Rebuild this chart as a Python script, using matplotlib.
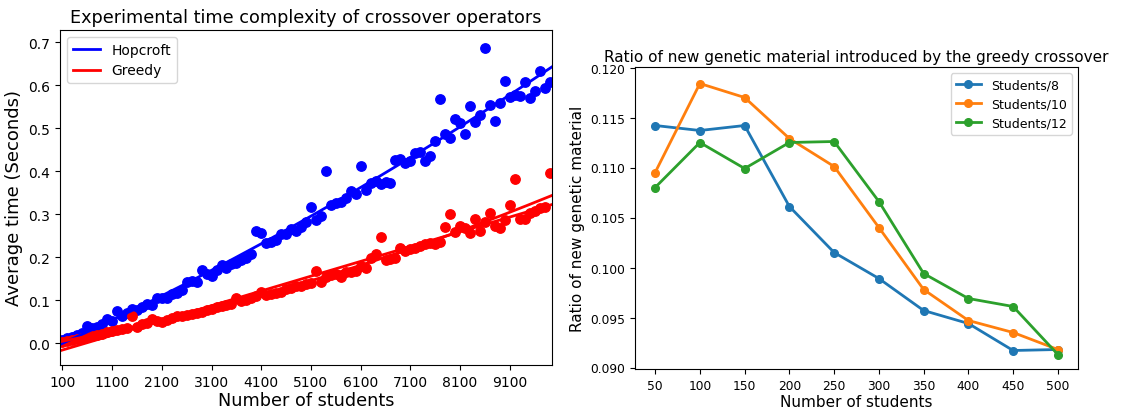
import numpy as np
import matplotlib
matplotlib.use("Agg")
import matplotlib.pyplot as plt

# ---------------- Left chart data ----------------
students = list(range(100, 10000, 100))
hopcroft = [
    0.008, 0.012, 0.015, 0.019, 0.024, 0.040, 0.036, 0.037, 0.044, 0.055,
    0.052, 0.075, 0.063, 0.070, 0.080, 0.078, 0.083, 0.091, 0.089, 0.105,
    0.104, 0.106, 0.114, 0.117, 0.124, 0.143, 0.144, 0.142, 0.171, 0.160,
    0.157, 0.170, 0.181, 0.174, 0.184, 0.186, 0.193, 0.199, 0.207, 0.260,
    0.256, 0.232, 0.236, 0.240, 0.255, 0.254, 0.266, 0.262, 0.270, 0.281,
    0.316, 0.287, 0.296, 0.401, 0.322, 0.326, 0.329, 0.337, 0.353, 0.346,
    0.413, 0.356, 0.372, 0.377, 0.370, 0.374, 0.372, 0.426, 0.428, 0.420,
    0.424, 0.443, 0.444, 0.425, 0.436, 0.470, 0.568, 0.487, 0.477, 0.522,
    0.513, 0.488, 0.553, 0.515, 0.532, 0.687, 0.555, 0.516, 0.559, 0.611,
    0.574, 0.578, 0.575, 0.607, 0.570, 0.587, 0.633, 0.595, 0.608,
]
greedy = [
    0.002, 0.005, 0.008, 0.010, 0.012, 0.014, 0.016, 0.020, 0.022, 0.026,
    0.028, 0.030, 0.032, 0.034, 0.062, 0.038, 0.044, 0.046, 0.057, 0.052,
    0.050, 0.054, 0.058, 0.063, 0.062, 0.066, 0.068, 0.070, 0.073, 0.076,
    0.080, 0.083, 0.086, 0.089, 0.090, 0.105, 0.097, 0.100, 0.106, 0.110,
    0.118, 0.113, 0.115, 0.117, 0.120, 0.126, 0.128, 0.133, 0.132, 0.137,
    0.140, 0.168, 0.143, 0.153, 0.158, 0.160, 0.153, 0.166, 0.165, 0.168,
    0.180, 0.176, 0.199, 0.208, 0.246, 0.193, 0.196, 0.199, 0.222, 0.214,
    0.218, 0.222, 0.226, 0.231, 0.232, 0.230, 0.236, 0.270, 0.301, 0.258,
    0.272, 0.268, 0.257, 0.288, 0.260, 0.281, 0.304, 0.272, 0.268, 0.286,
    0.321, 0.381, 0.288, 0.288, 0.304, 0.308, 0.314, 0.318, 0.397,
]
left_xticks = list(range(100, 10000, 1000))

# ---------------- Right chart data ----------------
n_students = [50, 100, 150, 200, 250, 300, 350, 400, 450, 500]
ratio_8 = [0.1142, 0.1137, 0.1142, 0.1061, 0.1015, 0.0989, 0.0957, 0.0944, 0.0917, 0.0918]
ratio_10 = [0.1095, 0.1184, 0.1170, 0.1129, 0.1101, 0.1040, 0.0978, 0.0947, 0.0935, 0.0918]
ratio_12 = [0.1080, 0.1125, 0.1099, 0.1125, 0.1126, 0.1066, 0.0994, 0.0969, 0.0961, 0.0913]

fig = plt.figure(figsize=(11.26, 4.10), dpi=100)

# ---------------- Left ----------------
ax1 = fig.add_axes([60/1126, 44/410, 492/1126, 335/410])
xs = np.array(students, dtype=float)
hy = np.array(hopcroft)
gy = np.array(greedy)
xfit = np.linspace(50, 9950, 200)
hq = np.polyfit(xs, hy, 2)
gq = np.polyfit(xs, gy, 2)
gl = np.polyfit(xs, gy, 1)
ax1.scatter(xs, hy, color="blue", s=46, zorder=2)
ax1.scatter(xs, gy, color="red", s=46, zorder=2)
ax1.plot(xfit, np.polyval(hq, xfit), color="blue", lw=2, label="Hopcroft")
ax1.plot(xfit, np.polyval(gq, xfit), color="red", lw=2, label="Greedy")
ax1.plot(xfit, np.polyval(gl, xfit), color="red", lw=2)
ax1.set_xlim(50, 9950)
ax1.set_ylim(-0.051, 0.729)
ax1.set_xticks(left_xticks)
ax1.tick_params(labelsize=10)
ax1.set_title("Experimental time complexity of crossover operators", fontsize=12.7)
ax1.set_xlabel("Number of students", fontsize=12.7, labelpad=2)
ax1.set_ylabel("Average time (Seconds)", fontsize=13)
ax1.legend(loc="upper left", fontsize=10)

# ---------------- Right ----------------
ax2 = fig.add_axes([635/1126, 40/410, 443/1126, 302/410])
ax2.plot(n_students, ratio_8, marker="o", ms=5.5, lw=2, label="Students/8")
ax2.plot(n_students, ratio_10, marker="o", ms=5.5, lw=2, label="Students/10")
ax2.plot(n_students, ratio_12, marker="o", ms=5.5, lw=2, label="Students/12")
ax2.set_xticks(n_students)
ax2.set_ylim(0.08985, 0.12005)
ax2.tick_params(labelsize=8.8)
ax2.set_title("Ratio of new genetic material introduced by the greedy crossover",
              fontsize=11, pad=4)
ax2.set_xlabel("Number of students", fontsize=11, labelpad=2)
ax2.set_ylabel("Ratio of new genetic material", fontsize=11)
ax2.legend(loc="upper right", fontsize=9)

fig.savefig("out.png", dpi=100)
